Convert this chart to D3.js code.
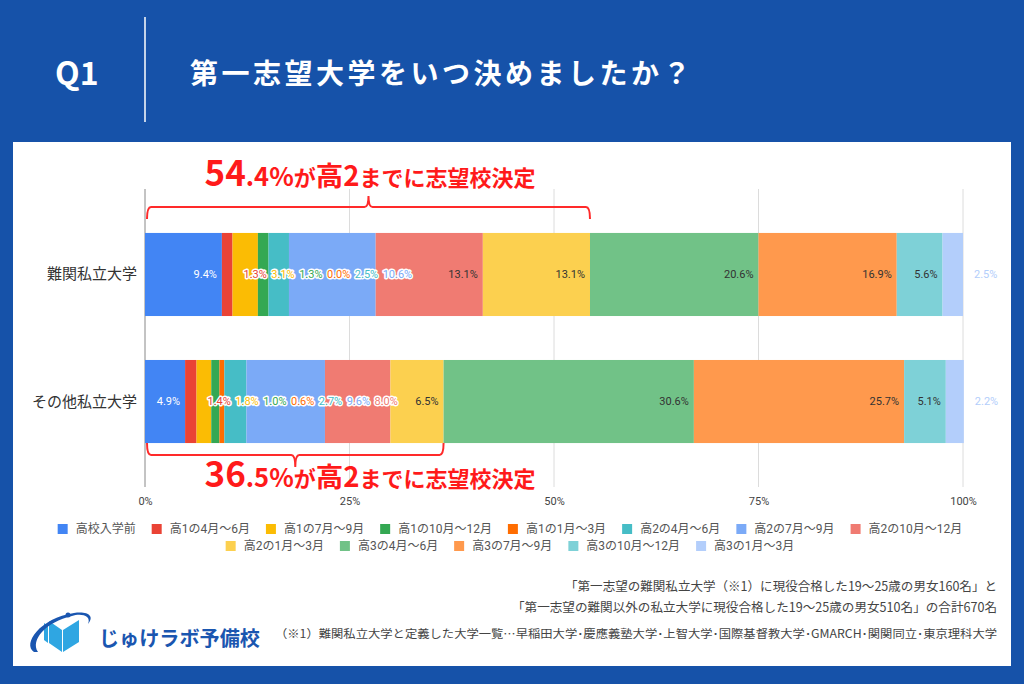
<!DOCTYPE html>
<html>
<head>
<meta charset="utf-8">
<script src="https://cdnjs.cloudflare.com/ajax/libs/d3/7.8.5/d3.min.js"></script>
<style>
  body { margin: 0; }
  svg text { font-family: Roboto, "Noto Sans CJK JP", sans-serif; }
</style>
</head>
<body>
<div id="chart"></div>
<script>
// Data
var categories = ["難関私立大学", "その他私立大学"];
var periods = ["高校入学前", "高1の4月～6月", "高1の7月～9月", "高1の10月～12月", "高1の1月～3月",
  "高2の4月～6月", "高2の7月～9月", "高2の10月～12月", "高2の1月～3月",
  "高3の4月～6月", "高3の7月～9月", "高3の10月～12月", "高3の1月～3月"];
var hardValues = [9.4, 1.3, 3.1, 1.3, 0.0, 2.5, 10.6, 13.1, 13.1, 20.6, 16.9, 5.6, 2.5];
var otherValues = [4.9, 1.4, 1.8, 1.0, 0.6, 2.7, 9.6, 8.0, 6.5, 30.6, 25.7, 5.1, 2.2];
var xTicks = [0, 25, 50, 75, 100];
var calloutValues = [54.4, 36.5];
var calloutBig = ["54", "36"];
var calloutSmall = [".4%", ".5%"];

var colors = ["#4285f4", "#ea4335", "#fbbc04", "#34a853", "#ff6d01", "#46bdc6", "#7baaf7",
  "#f07b72", "#fcd04f", "#71c287", "#ff994d", "#7ed1d7", "#b3cefb"];

var svgWidth = 1024;
var svgHeight = 684;

var svg = d3.select("#chart")
  .append("svg")
  .attr("width", svgWidth)
  .attr("height", svgHeight);

// background + white panel
svg.append("rect").attr("width", svgWidth).attr("height", svgHeight).attr("fill", "#1652a9");
svg.append("rect").attr("x", 13).attr("y", 142).attr("width", 998).attr("height", 524).attr("fill", "#fff");

// header
svg.append("text")
  .attr("x", 55).attr("y", 85)
  .attr("fill", "#fff").attr("font-size", 32).attr("font-weight", 700)
  .style("font-family", "'Noto Sans CJK JP'")
  .text("Q1");
svg.append("line")
  .attr("x1", 145).attr("x2", 145).attr("y1", 17).attr("y2", 122)
  .attr("stroke", "#fff").attr("stroke-width", 1.5);
svg.append("text")
  .attr("x", 190).attr("y", 84)
  .attr("fill", "#fff").attr("font-size", 28).attr("font-weight", 700)
  .attr("letter-spacing", 3.5)
  .style("font-family", "'Noto Sans CJK JP'")
  .text("第一志望大学をいつ決めましたか？");

// scales
var x = d3.scaleLinear().domain([0, 100]).range([145, 963]);
var y = d3.scaleBand().domain(categories).range([189, 487]).padding(0.346);

// gridlines
svg.append("g").selectAll("line")
  .data(xTicks)
  .enter()
  .append("line")
  .attr("x1", d => x(d)).attr("x2", d => x(d))
  .attr("y1", 189).attr("y2", 487)
  .attr("stroke", d => d === 0 ? "#888" : "#dcdcdc")
  .attr("stroke-width", 1);

// x axis labels
var xAxis = svg.append("g")
  .attr("transform", "translate(0, 487)")
  .call(d3.axisBottom(x).tickValues(xTicks).tickFormat(d => d + "%").tickSize(0).tickPadding(10));
xAxis.select(".domain").remove();
xAxis.selectAll("text")
  .attr("font-size", 11).attr("fill", "#444")
  .style("font-family", "Roboto");

// category labels
svg.append("g").selectAll("text")
  .data(categories)
  .enter()
  .append("text")
  .attr("x", 137)
  .attr("y", d => y(d) + y.bandwidth() / 2)
  .attr("dominant-baseline", "central")
  .attr("text-anchor", "end")
  .attr("font-size", 15).attr("fill", "#333")
  .text(d => d);

// stacked bars
var seriesValues = [hardValues, otherValues];
var table = categories.map(function(c, i) {
  var row = { category: c };
  periods.forEach(function(p, j) { row[p] = seriesValues[i][j]; });
  return row;
});
var stacked = d3.stack().keys(periods)(table);

var barGroup = svg.append("g");
stacked.forEach(function(layer, j) {
  barGroup.selectAll(".seg" + j)
    .data(layer)
    .enter()
    .append("rect")
    .attr("x", d => x(d[0]))
    .attr("y", d => y(d.data.category))
    .attr("width", d => Math.max(0, x(d[1]) - x(d[0])))
    .attr("height", y.bandwidth())
    .attr("fill", colors[j]);
});

// value labels: right aligned inside the segment, pushed right when crowded
var labelGroup = svg.append("g");
categories.forEach(function(c, i) {
  var cy = y(c) + y.bandwidth() / 2;
  var prevEnd = -Infinity;
  stacked.forEach(function(layer, j) {
    var d = layer[i];
    var x0 = x(d[0]), x1 = x(d[1]);
    var t = labelGroup.append("text")
      .attr("y", cy)
      .attr("dominant-baseline", "central")
      .attr("font-size", 11)
      .text(seriesValues[i][j].toFixed(1) + "%");
    var w = t.node().getComputedTextLength();
    var start = (w + 9 <= x1 - x0) ? x1 - 5 - w : x1 + 11;
    start = Math.max(start, prevEnd + 4.5);
    prevEnd = start + w;
    var inside = start >= x0 && start + w <= x1;
    t.attr("x", start);
    if (inside) {
      t.attr("fill", j === 0 ? "#fff" : "#333");
    } else {
      t.attr("fill", colors[j])
        .attr("stroke", "#fff").attr("stroke-width", 3)
        .attr("stroke-linejoin", "round")
        .attr("paint-order", "stroke");
    }
  });
});

// callout braces
function brace(x0, x1, yEnd, yLine, yTip) {
  var xm = (x0 + x1) / 2;
  var p = d3.path();
  p.moveTo(x0, yEnd);
  p.quadraticCurveTo(x0, yLine, x0 + 4, yLine);
  p.lineTo(xm - 4, yLine);
  p.quadraticCurveTo(xm, yLine, xm, yTip);
  p.quadraticCurveTo(xm, yLine, xm + 4, yLine);
  p.lineTo(x1 - 4, yLine);
  p.quadraticCurveTo(x1, yLine, x1, yEnd);
  return p.toString();
}
var braceGroup = svg.append("g")
  .attr("fill", "none").attr("stroke", "#ff2a2a").attr("stroke-width", 2);
braceGroup.append("path").attr("d", brace(x(0) + 2, x(calloutValues[0]), 219, 207, 196));
braceGroup.append("path").attr("d", brace(x(0) + 2, x(calloutValues[1]), 443, 455, 467));

function callout(k, yBase) {
  var t = svg.append("text")
    .attr("x", 370).attr("y", yBase)
    .attr("text-anchor", "middle")
    .attr("fill", "#ff1a1a").attr("font-weight", 700)
    .style("font-family", "'Noto Sans CJK JP'");
  t.append("tspan").attr("font-size", 35).text(calloutBig[k]);
  t.append("tspan").attr("font-size", 25.5).text(calloutSmall[k]);
  t.append("tspan").attr("font-size", 22).text("が");
  t.append("tspan").attr("font-size", 27.5).text("高2");
  t.append("tspan").attr("font-size", 22).text("までに志望校決定");
}
callout(0, 186);
callout(1, 487);

// legend
var legend = svg.append("g");
var items = periods.map(function(p, j) {
  var g = legend.append("g");
  g.append("rect").attr("width", 10).attr("height", 10).attr("fill", colors[j]);
  var t = g.append("text").attr("x", 18).attr("y", 5)
    .attr("dominant-baseline", "central")
    .attr("font-size", 12).attr("fill", "#555")
    .text(p);
  return { g: g, w: 18 + t.node().getComputedTextLength() };
});
var rows = [[]], rowW = [0], maxW = 930, gap = 16;
items.forEach(function(it) {
  var r = rows.length - 1;
  var add = (rows[r].length ? gap : 0) + it.w;
  if (rowW[r] + add > maxW) { rows.push([it]); rowW.push(it.w); }
  else { rows[r].push(it); rowW[r] += add; }
});
rows.forEach(function(row, r) {
  var cx = 510 - rowW[r] / 2;
  row.forEach(function(it) {
    it.g.attr("transform", "translate(" + cx + "," + (524 + r * 17) + ")");
    cx += it.w + gap;
  });
});

// footer notes
var notes = [
  { text: "「第一志望の難関私立大学（※1）に現役合格した19～25歳の男女160名」と", y: 591, size: 12.5, len: 432 },
  { text: "「第一志望の難関以外の私立大学に現役合格した19～25歳の男女510名」の合計670名", y: 612, size: 12.5, len: 485 },
  { text: "（※1）難関私立大学と定義した大学一覧…早稲田大学･慶應義塾大学･上智大学･国際基督教大学･GMARCH･関関同立･東京理科大学", y: 638, size: 11.5, len: 722 }
];
svg.append("g").selectAll("text")
  .data(notes)
  .enter()
  .append("text")
  .attr("x", 997)
  .attr("y", d => d.y)
  .attr("text-anchor", "end")
  .attr("font-size", d => d.size)
  .attr("fill", "#444")
  .attr("textLength", d => d.len)
  .attr("lengthAdjust", "spacingAndGlyphs")
  .style("font-family", "'Noto Sans CJK JP'")
  .text(d => d.text);

// logo
var logo = svg.append("g");
logo.append("path")
  .attr("d", "M49,621 L62,630 L62,652 L49,643 Z M63,630 L79,620 L79,642 L63,652 Z")
  .attr("fill", "#2fa6e2");
logo.append("path")
  .attr("d", "M44,623 L44,640 L48,643 L48,626 Z")
  .attr("fill", "#2fa6e2");
logo.append("path")
  .attr("d", "M34,652 C22,644 40,618 74,613 C88,611 95,616 88,624 C92,615 80,613 72,616 C46,622 30,640 38,652 Z")
  .attr("fill", "#1a56b0");
logo.append("circle").attr("cx", 68).attr("cy", 615).attr("r", 2.5).attr("fill", "#1a56b0");
logo.append("text")
  .attr("x", 99).attr("y", 646)
  .attr("font-size", 20.5).attr("font-weight", 700)
  .attr("fill", "#1a56b0")
  .attr("textLength", 161)
  .attr("lengthAdjust", "spacingAndGlyphs")
  .style("font-family", "'Noto Sans CJK JP'")
  .text("じゅけラボ予備校");
</script>
</body>
</html>
